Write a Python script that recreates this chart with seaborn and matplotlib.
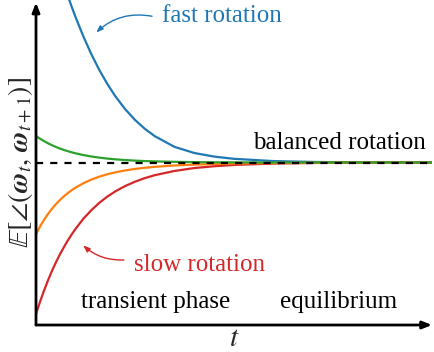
import pandas as pd
import seaborn as sns
import matplotlib.pyplot as plt
from matplotlib import font_manager

# values (t on 0..10, equilibrium level = 1)
t_vals = [0, 0.1, 0.2, 0.3, 0.4, 0.5, 0.6, 0.7, 0.8, 0.9, 1.0, 1.2, 1.4, 1.6, 1.8, 2.0,
          2.25, 2.5, 2.75, 3.0, 3.5, 4, 4.5, 5, 6, 7, 8, 9, 10]
fast = [2.694, 2.599, 2.508, 2.420, 2.335, 2.253, 2.175, 2.0996, 2.0278, 1.9593, 1.8942,
        1.7735, 1.6653, 1.5689, 1.4837, 1.4089, 1.3288, 1.2620, 1.2069, 1.1620, 1.0958,
        1.0584, 1.0363, 1.0226, 1.0087, 1.0034, 1.0013, 1.0005, 1.0002]
balanced = [1.163, 1.1466, 1.1319, 1.1186, 1.1067, 1.096, 1.0863, 1.0776, 1.0698, 1.0628,
            1.0565, 1.0457, 1.0369, 1.0299, 1.0242, 1.0196, 1.015, 1.0115, 1.0088, 1.0068,
            1.004, 1.0023, 1.0014, 1.0008, 1.0003, 1.0001, 1.0, 1.0, 1.0]
mid = [0.560, 0.6056, 0.6462, 0.6822, 0.7142, 0.7428, 0.7683, 0.7909, 0.8111, 0.8292,
       0.8454, 0.8730, 0.8951, 0.9130, 0.9275, 0.9394, 0.9512, 0.9604, 0.9677, 0.9734,
       0.9817, 0.9870, 0.9906, 0.9933, 0.9965, 0.9982, 0.9991, 0.9995, 0.9998]
slow = [0.068, 0.142, 0.210, 0.273, 0.331, 0.384, 0.433, 0.477, 0.519, 0.557, 0.592, 0.655,
        0.707, 0.752, 0.790, 0.822, 0.855, 0.882, 0.904, 0.922, 0.948, 0.966, 0.977,
        0.985, 0.9935, 0.997, 0.9988, 0.9995, 1.0]
equilibrium = 1.0

curve_names = ['fast', 'slow', 'mid', 'balanced']  # draw order, green last
curve_colors = {'fast': '#1f77b4', 'slow': '#d62728', 'mid': '#ff7f0e', 'balanced': '#2ca02c'}

sns.set_style('white')
plt.rcParams['mathtext.fontset'] = 'stix'
# point straight at the font file so nothing can swap the family
serif_path = font_manager.findfont(font_manager.FontProperties(family='Liberation Serif'))
serif_fp = font_manager.FontProperties(fname=serif_path, size=18)

df = pd.concat([
    pd.DataFrame({'t': t_vals, 'value': fast, 'curve': 'fast'}),
    pd.DataFrame({'t': t_vals, 'value': slow, 'curve': 'slow'}),
    pd.DataFrame({'t': t_vals, 'value': mid, 'curve': 'mid'}),
    pd.DataFrame({'t': t_vals, 'value': balanced, 'curve': 'balanced'}),
])

fig = plt.figure(figsize=(4.34, 3.52), dpi=100)
ax = fig.add_axes([36 / 434, 27 / 352, 396 / 434, 325 / 352])

sns.lineplot(data=df, x='t', y='value', hue='curve', hue_order=curve_names,
             palette=curve_colors, linewidth=1.6, legend=False, ax=ax)
ax.axhline(equilibrium, color='black', linestyle='--', linewidth=1.6, dashes=(3.2, 3.2), zorder=5)

ax.set_xlim(0, 10)
ax.set_ylim(0, 2.0)
ax.set_xticks([])
ax.set_yticks([])
for s in ax.spines.values():
    s.set_visible(False)

# axes with arrow heads
arrow = dict(arrowstyle='-|>,head_length=0.55,head_width=0.22', lw=2, color='black',
             shrinkA=0, shrinkB=0)
ax.annotate('', xy=(1.0, 0), xytext=(0, 0), xycoords='axes fraction', arrowprops=arrow,
            annotation_clip=False)
ax.annotate('', xy=(0, 0.992), xytext=(0, 0), xycoords='axes fraction', arrowprops=arrow,
            annotation_clip=False)

ax.set_xlabel('$t$', fontsize=21, labelpad=-1)
ax.set_ylabel(r'$\mathbb{E}[\angle(\boldsymbol{\omega}_t,\,\boldsymbol{\omega}_{t+1})]$',
              fontsize=20, labelpad=1)

ax.text(4.70, 1.90, 'fast rotation', color='#1f77b4', ha='center', va='center',
        fontproperties=serif_fp)
ax.annotate('', xy=(1.52, 1.80), xytext=(2.93, 1.90),
            arrowprops=dict(arrowstyle='-|>,head_length=0.4,head_width=0.15', color='#1f77b4',
                            lw=1, connectionstyle='arc3,rad=0.25', shrinkA=0, shrinkB=0))
ax.text(7.65, 1.12, 'balanced rotation', color='black', ha='center', va='center',
        fontproperties=serif_fp)
ax.text(4.14, 0.37, 'slow rotation', color='#d62728', ha='center', va='center',
        fontproperties=serif_fp)
ax.annotate('', xy=(1.19, 0.49), xytext=(2.22, 0.40),
            arrowprops=dict(arrowstyle='-|>,head_length=0.4,head_width=0.15', color='#d62728',
                            lw=1, connectionstyle='arc3,rad=-0.2', shrinkA=0, shrinkB=0))
ax.text(3.03, 0.14, 'transient phase', color='black', ha='center', va='center',
        fontproperties=serif_fp)
ax.text(7.65, 0.14, 'equilibrium', color='black', ha='center', va='center',
        fontproperties=serif_fp)

fig.savefig('out.png', dpi=100)
